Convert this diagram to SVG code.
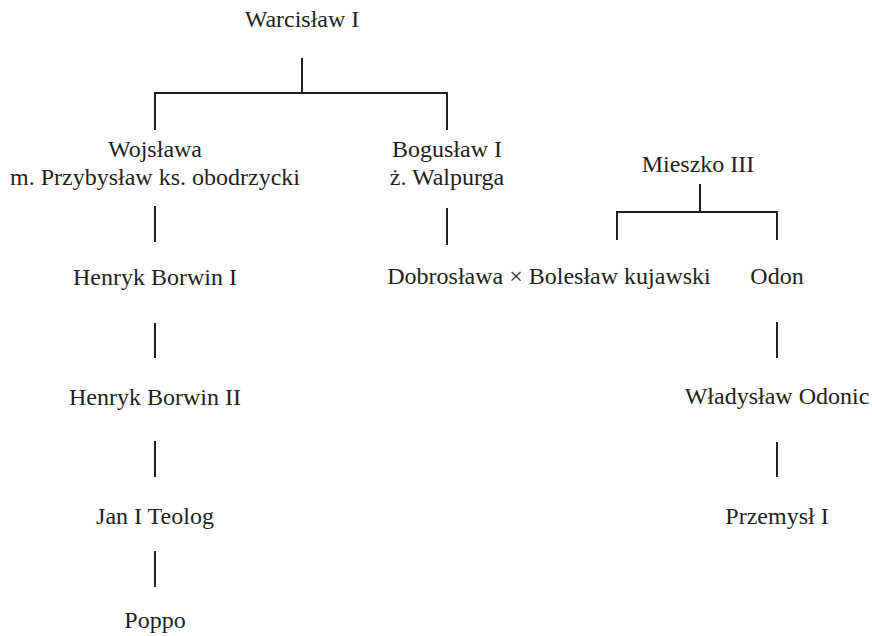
<svg xmlns="http://www.w3.org/2000/svg" width="872" height="636" viewBox="0 0 872 636">
<style>
text{font-family:'Liberation Serif','Times New Roman',Times,serif;font-size:24px;fill:#231f20;text-anchor:middle}
.c line{stroke:#231f20;stroke-width:2;fill:none}
</style>
<rect width="872" height="636" fill="#fff"/>
<g class="c" id="connectors">
<line x1="302" y1="58" x2="302" y2="93"/>
<line x1="154" y1="93" x2="448" y2="93"/>
<line x1="155" y1="92" x2="155" y2="130"/>
<line x1="447" y1="92" x2="447" y2="130"/>
<line x1="155" y1="206" x2="155" y2="242"/>
<line x1="155" y1="323" x2="155" y2="358"/>
<line x1="155" y1="441" x2="155" y2="477"/>
<line x1="155" y1="551" x2="155" y2="587"/>
<line x1="447" y1="208" x2="447" y2="245"/>
<line x1="700" y1="184" x2="700" y2="212"/>
<line x1="616" y1="212" x2="778" y2="212"/>
<line x1="617" y1="211" x2="617" y2="240"/>
<line x1="777" y1="211" x2="777" y2="240"/>
<line x1="777" y1="322" x2="777" y2="358"/>
<line x1="777" y1="442" x2="777" y2="477"/>
</g>
<g font-family="Liberation Serif, serif">
<g id="warcislaw"><text x="302" y="27">Warcisław I</text></g>
<g id="wojslawa"><text x="155" y="157">Wojsława</text><text x="155" y="185">m. Przybysław ks. obodrzycki</text></g>
<g id="boguslaw"><text x="447" y="157">Bogusław I</text><text x="447" y="185">ż. Walpurga</text></g>
<g id="mieszko"><text x="698" y="172">Mieszko III</text></g>
<g id="henryk1"><text x="155" y="285">Henryk Borwin I</text></g>
<g id="henryk2"><text x="155" y="405">Henryk Borwin II</text></g>
<g id="jan"><text x="155" y="524">Jan I Teolog</text></g>
<g id="poppo"><text x="155" y="628">Poppo</text></g>
<g id="dobroslawa"><text x="549" y="284">Dobrosława × Bolesław kujawski</text></g>
<g id="odon"><text x="777" y="284">Odon</text></g>
<g id="wladyslaw"><text x="777" y="404">Władysław Odonic</text></g>
<g id="przemysl"><text x="777" y="524">Przemysł I</text></g>
</g>
</svg>
